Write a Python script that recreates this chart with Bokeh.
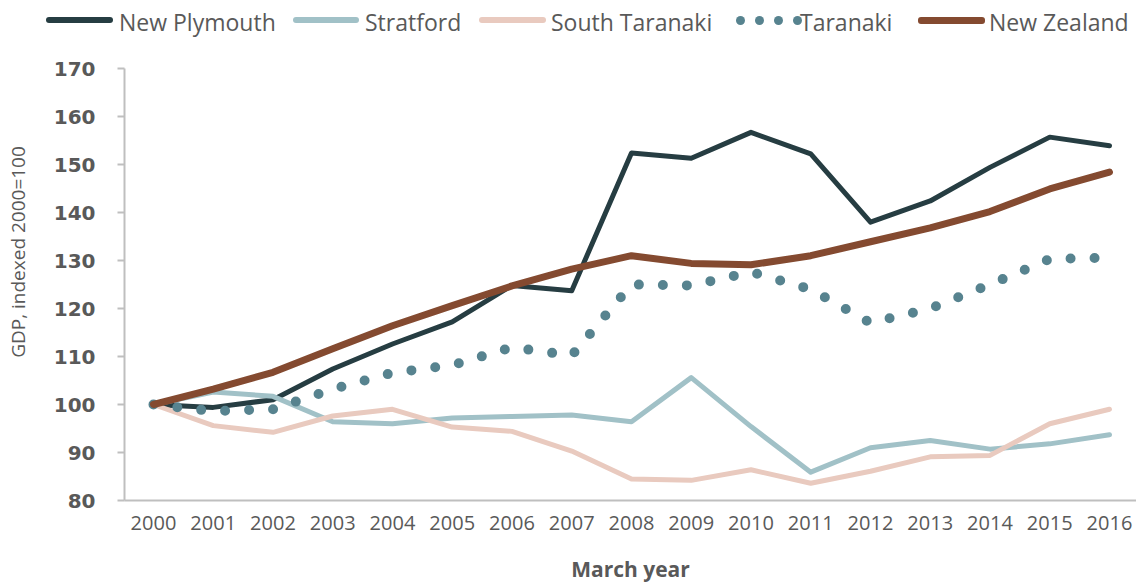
from bokeh.plotting import figure
from bokeh.layouts import column, row
from bokeh.models import Range1d, FixedTicker, Div
from bokeh.embed import file_html
from bokeh.resources import INLINE

years = list(range(2000, 2017))
new_plymouth = [100.0, 99.4, 101.0, 107.4, 112.6, 117.2, 124.8, 123.7, 152.4, 151.3,
                156.7, 152.2, 138.0, 142.4, 149.4, 155.7, 153.9]
stratford = [100.0, 102.6, 101.7, 96.4, 96.0, 97.2, 97.5, 97.8, 96.4, 105.6,
             95.4, 85.9, 91.0, 92.5, 90.7, 91.8, 93.7]
south_taranaki = [100.0, 95.6, 94.2, 97.6, 99.0, 95.3, 94.4, 90.3, 84.5, 84.2,
                  86.4, 83.6, 86.1, 89.1, 89.4, 96.0, 99.0]
taranaki = [100.0, 98.6, 99.0, 103.2, 106.6, 108.2, 111.9, 110.2, 125.0, 124.8,
            127.6, 124.0, 117.0, 120.0, 125.0, 130.3, 130.6]
new_zealand = [100.0, 103.2, 106.7, 111.6, 116.4, 120.6, 124.7, 128.2, 131.0, 129.4,
               129.1, 131.0, 133.9, 136.8, 140.2, 144.9, 148.4]
y_ticks = [80, 90, 100, 110, 120, 130, 140, 150, 160, 170]
series_names = ["New Plymouth", "Stratford", "South Taranaki", "Taranaki", "New Zealand"]
y_title = "GDP, indexed 2000=100"
x_title = "March year"

TEXT = "#595959"
AXIS = "#BFBFBF"
COLORS = ["#263D42", "#A1C1C7", "#E9CABF", "#57838F", "#844A30"]
WIDTHS = [5, 5, 5, 10, 7]

# ---------------- main chart ----------------
p = figure(width=1096, height=527,
           x_range=Range1d(1999.515, 2016.452), y_range=Range1d(80, 170),
           output_backend="svg", toolbar_location=None,
           min_border_left=84, min_border_right=0, min_border_top=10, min_border_bottom=85)
p.outline_line_color = None
p.xgrid.visible = False
p.ygrid.visible = False

p.yaxis.ticker = FixedTicker(ticks=y_ticks)
p.yaxis.axis_line_color = AXIS
p.yaxis.axis_line_width = 2
p.yaxis.major_tick_line_color = AXIS
p.yaxis.major_tick_line_width = 2
p.yaxis.major_tick_in = 0
p.yaxis.major_tick_out = 7
p.yaxis.minor_tick_line_color = None
p.yaxis.major_label_standoff = 22
p.yaxis.major_label_text_font = "DejaVu Sans"
p.yaxis.major_label_text_font_style = "bold"
p.yaxis.major_label_text_font_size = "20px"
p.yaxis.major_label_text_color = TEXT

p.xaxis.ticker = FixedTicker(ticks=years)
p.xaxis.axis_line_color = AXIS
p.xaxis.axis_line_width = 2
p.xaxis.major_tick_line_color = None
p.xaxis.major_tick_in = 0
p.xaxis.major_tick_out = 0
p.xaxis.minor_tick_line_color = None
p.xaxis.major_label_standoff = 15
p.xaxis.major_label_text_font = "Open Sans"
p.xaxis.major_label_text_font_size = "20px"
p.xaxis.major_label_text_color = TEXT
p.xaxis.axis_label = x_title
p.xaxis.axis_label_standoff = 22
p.xaxis.axis_label_text_font = "Open Sans"
p.xaxis.axis_label_text_font_style = "bold"
p.xaxis.axis_label_text_font_size = "21px"
p.xaxis.axis_label_text_color = TEXT

for vals, c, w in zip([new_plymouth, stratford, south_taranaki, taranaki, new_zealand],
                      COLORS, WIDTHS):
    if w == 10:
        p.line(years, vals, line_color=c, line_width=w, line_dash="0 24",
               line_cap="round", line_join="round")
    else:
        p.line(years, vals, line_color=c, line_width=w,
               line_cap="round", line_join="round")

# ---------------- y title strip (HTML, rotated) ----------------
ytitle_html = (
    '<div style="position:relative;width:40px;height:527px;">'
    '<div style="position:absolute;left:18px;top:194px;transform:translate(-50%,-50%) rotate(-90deg);'
    f'font-family:\'Open Sans\';font-size:19px;line-height:24px;color:{TEXT};white-space:nowrap;">'
    f'{y_title}</div></div>')
ytitle_div = Div(text=ytitle_html, width=40, height=527, margin=0)

# ---------------- legend strip (HTML) ----------------
key_left = [46, 293, 479, 736, 918]     # left edge of each key sample (px)
key_len = [67, 66, 67, 60, 67]
text_left = [119, 365, 551, 800, 989]
parts = []
for name, c, w, kl, ln, tl in zip(series_names, COLORS, WIDTHS, key_left, key_len, text_left):
    if w == 10:
        for i in range(4):
            parts.append(
                f'<div style="position:absolute;left:{kl + i * 19}px;top:16px;width:9px;height:9px;'
                f'border-radius:50%;background:{c};"></div>')
    else:
        h = 7 if w == 7 else 6
        parts.append(
            f'<div style="position:absolute;left:{kl}px;top:{20 - h // 2}px;width:{ln}px;height:{h}px;'
            f'border-radius:{h // 2}px;background:{c};"></div>')
    parts.append(
        f'<div style="position:absolute;left:{tl}px;top:11px;line-height:23px;font-size:23px;'
        f'font-family:\'Open Sans\';color:{TEXT};white-space:nowrap;">{name}</div>')
html = ('<div style="position:relative;width:1136px;height:58px;overflow:visible;">'
        + "".join(parts) + "</div>")
legend_div = Div(text=html, width=1136, height=58, margin=0)

layout = column(legend_div, row(ytitle_div, p, spacing=0), spacing=0)
open("out.html", "w").write(file_html(layout, INLINE))
